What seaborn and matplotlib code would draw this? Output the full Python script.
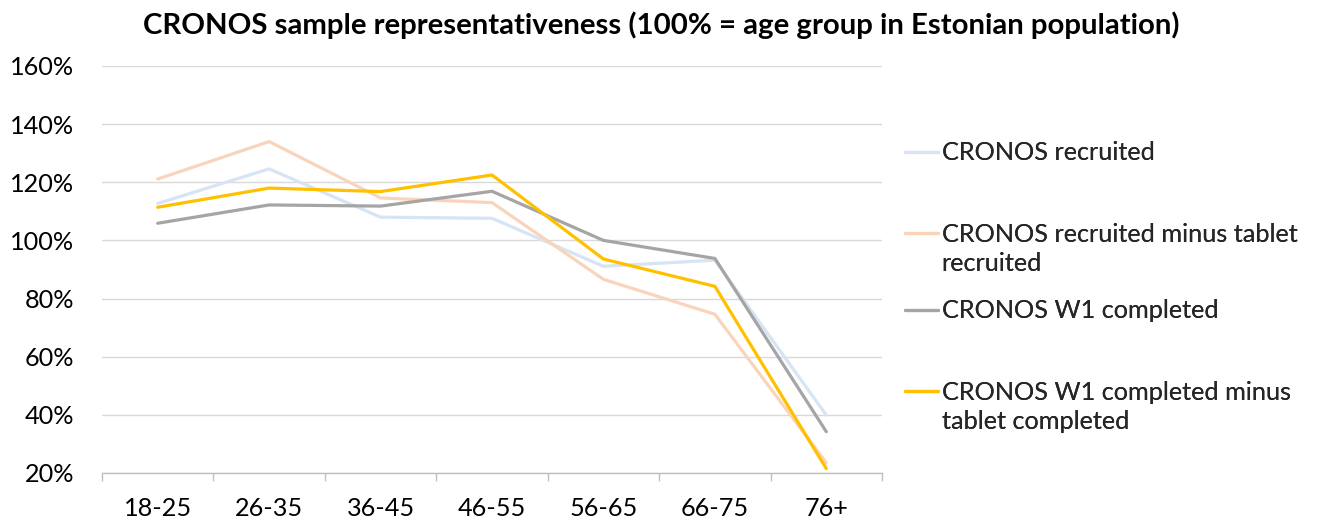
import matplotlib
matplotlib.use("Agg")
import matplotlib.pyplot as plt
from matplotlib.ticker import FuncFormatter, FixedLocator
from matplotlib.legend_handler import HandlerLine2D
import numpy as np
import seaborn as sns
import pandas as pd

age_groups = ["18-25", "26-35", "36-45", "46-55", "56-65", "66-75", "76+"]

recruited = [112.7, 124.6, 108.0, 107.6, 91.1, 93.2, 39.9]
recruited_minus_tablet = [121.1, 134.0, 114.6, 113.0, 86.6, 74.6, 23.5]
w1_completed = [105.9, 112.2, 111.8, 116.9, 100.0, 93.8, 34.2]
w1_completed_minus_tablet = [111.4, 118.0, 116.8, 122.5, 93.6, 84.2, 21.5]

series_names = [
    "CRONOS recruited",
    "CRONOS recruited minus tablet\nrecruited",
    "CRONOS W1 completed",
    "CRONOS W1 completed minus\ntablet completed",
]
series_values = [recruited, recruited_minus_tablet, w1_completed, w1_completed_minus_tablet]
series_colors = ["#D7E4F4", "#F9D4BB", "#A5A5A5", "#FFC000"]

title = "CRONOS sample representativeness (100% = age group in Estonian population)"
y_ticks = [20, 40, 60, 80, 100, 120, 140, 160]

sns.set_theme(style="white")
plt.rcParams["font.family"] = ["Lato", "DejaVu Sans"]

FS = 18.2
LINESPACING = 1.3


class FirstLineHandler(HandlerLine2D):
    """Legend line drawn level with the first line of a multi-line label."""

    def __init__(self, shift, **kw):
        super().__init__(**kw)
        self.shift = shift

    def create_artists(self, legend, orig_handle, xdescent, ydescent, width,
                       height, fontsize, trans):
        artists = super().create_artists(legend, orig_handle, xdescent, ydescent,
                                         width, height, fontsize, trans)
        for a in artists:
            a.set_ydata(np.asarray(a.get_ydata(), dtype=float) + self.shift)
        return artists


fig = plt.figure(figsize=(13.24, 5.22), dpi=100)
ax = fig.add_axes([0.077, 0.0939, 0.5892, 0.7797])

handles = []
for name, vals, col in zip(series_names, series_values, series_colors):
    df = pd.DataFrame({"age": age_groups, "value": vals})
    sns.lineplot(data=df, x="age", y="value", color=col, linewidth=2.3,
                 ax=ax, sort=False, clip_on=False)
    line = ax.lines[-1]
    line.set_solid_joinstyle("round")
    line.set_solid_capstyle("round")
    handles.append(line)

n = len(age_groups)
ax.set_xlim(-0.5, n - 0.5)
ax.set_ylim(20, 160)
ax.yaxis.set_major_locator(FixedLocator(y_ticks))
ax.yaxis.set_major_formatter(FuncFormatter(lambda v, p: f"{v:.0f}%"))
ax.set_xlabel("")
ax.set_ylabel("")

ax.grid(axis="y", color="#D9D9D9", linewidth=1.0)
ax.grid(axis="x", visible=False)
ax.set_axisbelow(True)
for s in ["left", "right", "top"]:
    ax.spines[s].set_visible(False)
ax.spines["bottom"].set_color("#BFBFBF")
ax.spines["bottom"].set_linewidth(1.0)

ax.xaxis.set_minor_locator(FixedLocator([i - 0.5 for i in range(n + 1)]))
ax.tick_params(axis="x", which="minor", length=6, width=1.0, color="#BFBFBF", direction="out", bottom=True)
ax.tick_params(axis="x", which="major", length=0, pad=17, labelsize=FS, labelcolor="#000000")
ax.tick_params(axis="y", which="major", length=0, pad=20, labelsize=FS, labelcolor="#000000")

fig.text(0.4992, 0.952, title, ha="center", va="center", fontsize=21.2,
         fontweight="bold", color="#000000")

# one legend box per series, stacked to the right of the plot
legend_centers = [153, 249, 311, 407]
for h, name, yc in zip(handles, series_names, legend_centers):
    n_lines = name.count("\n") + 1
    shift = (n_lines - 1) * FS * LINESPACING / 2
    leg = fig.legend(handles=[h], labels=[name], loc="center left",
                     bbox_to_anchor=(905 / 1324, 1 - yc / 522), frameon=False,
                     fontsize=FS, handlelength=1.3, handletextpad=0.15,
                     borderpad=0, borderaxespad=0,
                     handler_map={h: FirstLineHandler(shift)})
    for t in leg.get_texts():
        t.set_linespacing(LINESPACING)
    fig.add_artist(leg)

fig.savefig("out.png", dpi=100)
